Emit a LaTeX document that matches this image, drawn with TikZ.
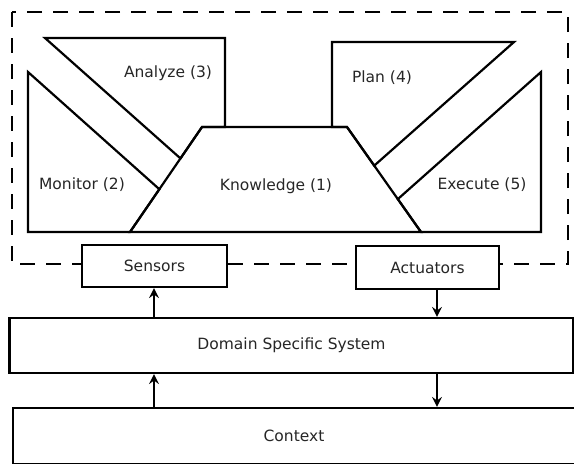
\documentclass[tikz,border=0pt]{standalone}
\usepackage{fontspec}
\setmainfont{DejaVu Sans}
\usetikzlibrary{arrows.meta}
\begin{document}
\begin{tikzpicture}[x=1pt,y=-1pt, line width=2.2pt,
  lbl/.style={font=\fontsize{15.5}{18}\selectfont, text=black!85},
  box/.style={draw, fill=white, inner sep=0pt, lbl},
  part/.style={draw, line join=miter},
  arr/.style={-{Stealth[length=10pt,width=10pt,inset=3.5pt]}}]
\useasboundingbox (0,0) rectangle (574,464);
\clip (0,0) rectangle (574,464);
\draw[dash pattern=on 15pt off 11pt] (12,12) rectangle (568,264);
% knowledge edge points
\coordinate (kbl) at (130,232);
\coordinate (ktl) at (202,127);
\coordinate (ktr) at (347,127);
\coordinate (kbr) at (421,232);
\coordinate (a1) at (intersection of 45,38--180,158 and 202,127--130,232);
\coordinate (m1) at (intersection of 28,72--158,188 and 202,127--130,232);
\coordinate (p1) at (intersection of 514,42--376,164 and 347,127--421,232);
\coordinate (e1) at (intersection of 541,72--399,198 and 347,127--421,232);
\draw[part] (45,38) -- (225,38) -- (225,127) -- (ktl) -- (a1) -- cycle;
\draw[part] (28,72) -- (m1) -- (kbl) -- (28,232) -- cycle;
\draw[part] (kbl) -- (ktl) -- (ktr) -- (kbr) -- cycle;
\draw[part] (332,127) -- (332,42) -- (514,42) -- (p1) -- (ktr) -- cycle;
\draw[part] (541,72) -- (541,232) -- (kbr) -- (e1) -- cycle;
\node[lbl] (tanalyze) at (168,73) {Analyze (3)};
\node[lbl] (tmonitor) at (82,185) {Monitor (2)};
\node[lbl] (tknow) at (276,186) {Knowledge (1)};
\node[lbl] (tplan) at (382,78) {Plan (4)};
\node[lbl] (texec) at (482,185) {Execute (5)};
\node[box, minimum width=145pt, minimum height=42pt] (sensors) at (154.5,266) {Sensors};
\node[box, minimum width=143pt, minimum height=43pt] (actuators) at (427.5,267.5) {Actuators};
\node[box, minimum width=564pt, minimum height=55pt] (dss) at (291.5,345.5) {Domain Specific System};
\node[box, minimum width=562pt, minimum height=56pt] (context) at (294,436) {Context};
\coordinate (sx) at (154,0);
\coordinate (ax) at (437,0);
\draw[arr] (dss.north -| sx) -- (sensors.south -| sx);
\draw[arr] (actuators.south -| ax) -- (dss.north -| ax);
\draw[arr] (context.north -| sx) -- (dss.south -| sx);
\draw[arr] (dss.south -| ax) -- (context.north -| ax);
\end{tikzpicture}
\end{document}
